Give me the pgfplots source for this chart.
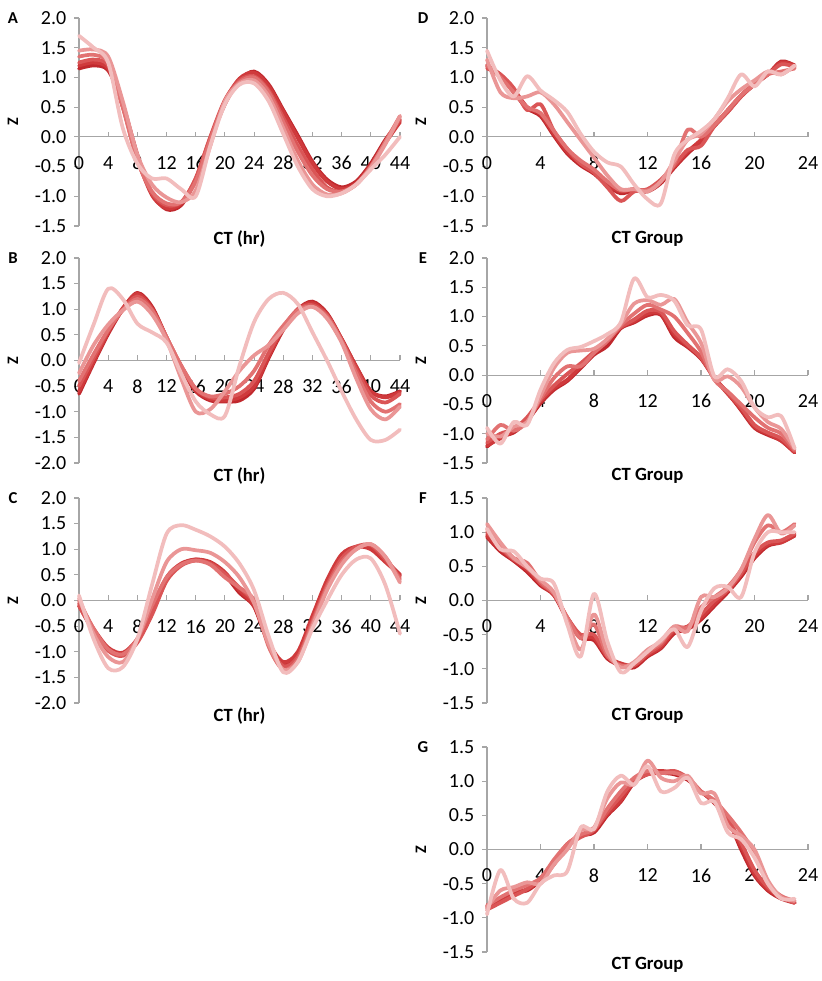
\documentclass[border=0pt]{standalone}
\usepackage{fontspec}
\setmainfont{Carlito}
\usepackage{pgfplots}
\usepackage{pgfplotstable}
\pgfplotsset{compat=1.18}
\definecolor{c1}{HTML}{C0282D}
\definecolor{c2}{HTML}{CF3A3C}
\definecolor{c3}{HTML}{DA5556}
\definecolor{c4}{HTML}{E27272}
\definecolor{c5}{HTML}{EA9696}
\definecolor{c6}{HTML}{F2BDBD}
\definecolor{axgray}{HTML}{A6A6A6}
\newcommand\tickfont{\fontsize{15}{17}\selectfont}

\pgfplotstableread{
x a b c d e f
0 1.15 1.20 1.25 1.35 1.45 1.70
2 1.20 1.25 1.30 1.38 1.47 1.50
4 1.12 1.15 1.20 1.25 1.35 1.25
6 0.55 0.52 0.50 0.50 0.60 0.15
8 -0.30 -0.35 -0.38 -0.40 -0.30 -0.45
10 -0.95 -0.98 -0.95 -0.92 -0.80 -0.70
12 -1.22 -1.20 -1.15 -1.12 -1.02 -0.70
14 -1.15 -1.12 -1.10 -1.10 -1.10 -0.88
16 -0.72 -0.70 -0.70 -0.75 -0.90 -1.00
18 -0.05 -0.02 0.00 -0.05 -0.15 -0.15
20 0.55 0.60 0.62 0.60 0.60 0.55
22 0.95 0.98 0.95 0.92 0.90 0.88
24 1.10 1.08 1.02 1.00 0.95 0.90
26 0.88 0.85 0.78 0.75 0.68 0.60
28 0.45 0.42 0.32 0.25 0.15 0.05
30 0.02 -0.02 -0.15 -0.25 -0.40 -0.50
32 -0.42 -0.45 -0.55 -0.65 -0.80 -0.88
34 -0.72 -0.75 -0.85 -0.88 -0.97 -1.00
36 -0.85 -0.88 -0.92 -0.92 -0.95 -0.95
38 -0.75 -0.78 -0.80 -0.80 -0.80 -0.80
40 -0.45 -0.48 -0.50 -0.50 -0.52 -0.55
42 -0.05 -0.10 -0.10 -0.08 -0.12 -0.30
44 0.28 0.25 0.30 0.35 0.35 0.00
}\tabA

\pgfplotstableread{
x a b c d e f
0 -0.65 -0.60 -0.50 -0.40 -0.25 -0.05
2 -0.05 -0.02 0.05 0.12 0.30 0.70
4 0.52 0.55 0.58 0.60 0.70 1.40
6 1.00 1.02 1.00 0.98 0.98 1.20
8 1.32 1.30 1.25 1.20 1.15 0.72
10 1.05 1.02 1.00 0.98 0.90 0.55
12 0.45 0.45 0.45 0.45 0.40 0.35
14 -0.15 -0.12 -0.10 -0.10 -0.35 -0.25
16 -0.60 -0.58 -0.55 -0.55 -1.00 -0.80
18 -0.78 -0.75 -0.72 -0.70 -0.95 -1.05
20 -0.80 -0.78 -0.72 -0.65 -0.60 -1.08
22 -0.78 -0.72 -0.65 -0.50 -0.20 -0.10
24 -0.55 -0.50 -0.40 -0.20 0.10 0.75
26 0.05 0.08 0.15 0.30 0.30 1.20
28 0.60 0.62 0.65 0.68 0.60 1.32
30 1.00 1.00 1.00 0.98 0.92 1.10
32 1.15 1.12 1.08 1.05 1.05 0.55
34 0.92 0.90 0.88 0.85 0.82 0.00
36 0.42 0.42 0.40 0.38 0.35 -0.60
38 -0.12 -0.12 -0.18 -0.25 -0.35 -1.15
40 -0.60 -0.60 -0.68 -0.80 -0.95 -1.55
42 -0.70 -0.72 -0.82 -1.00 -1.15 -1.55
44 -0.60 -0.62 -0.65 -0.85 -0.90 -1.35
}\tabB

\pgfplotstableread{
x a b c d e f
0 -0.10 -0.05 -0.10 0.00 0.05 0.10
2 -0.60 -0.55 -0.60 -0.55 -0.65 -0.75
4 -0.95 -0.92 -0.98 -0.95 -1.10 -1.32
6 -1.05 -1.02 -1.08 -1.05 -1.20 -1.30
8 -0.80 -0.75 -0.82 -0.75 -0.75 -0.75
10 -0.25 -0.20 -0.28 -0.10 0.02 0.30
12 0.40 0.45 0.38 0.45 0.75 1.30
14 0.70 0.72 0.68 0.70 1.00 1.47
16 0.80 0.80 0.78 0.78 0.98 1.38
18 0.72 0.75 0.72 0.70 0.93 1.25
20 0.50 0.55 0.52 0.45 0.75 1.05
22 0.15 0.20 0.25 0.25 0.45 0.72
24 -0.12 -0.10 -0.05 0.00 -0.05 0.20
26 -0.85 -0.82 -0.85 -0.90 -0.85 -0.70
28 -1.25 -1.20 -1.28 -1.35 -1.35 -1.40
30 -1.05 -1.00 -1.10 -1.15 -1.20 -1.20
32 -0.35 -0.30 -0.40 -0.45 -0.50 -0.55
34 0.35 0.40 0.30 0.25 0.20 0.00
36 0.85 0.90 0.82 0.75 0.70 0.50
38 1.05 1.05 1.05 1.00 1.00 0.80
40 1.02 1.00 1.08 1.10 1.10 0.82
42 0.78 0.75 0.80 0.85 0.85 0.30
44 0.50 0.50 0.45 0.40 0.35 -0.65
}\tabC

\pgfplotstableread{
x a b c d e f
0 1.18 1.20 1.15 1.20 1.30 1.45
1 1.02 1.05 1.05 1.00 0.75 0.95
2 0.75 0.80 0.82 0.75 0.65 0.68
3 0.48 0.50 0.45 0.50 0.68 1.02
4 0.35 0.38 0.55 0.40 0.75 0.78
5 0.02 0.05 0.10 0.10 0.55 0.62
6 -0.28 -0.25 -0.20 -0.20 0.25 0.42
7 -0.48 -0.45 -0.45 -0.40 -0.05 0.05
8 -0.62 -0.60 -0.60 -0.55 -0.35 -0.25
9 -0.82 -0.80 -0.85 -0.75 -0.65 -0.43
10 -0.95 -0.92 -1.08 -0.90 -0.88 -0.50
11 -0.90 -0.88 -0.92 -0.88 -0.88 -0.80
12 -0.92 -0.90 -0.88 -0.90 -0.92 -1.05
13 -0.78 -0.75 -0.72 -0.75 -0.75 -1.12
14 -0.52 -0.50 -0.48 -0.45 -0.40 -0.30
15 -0.28 -0.25 -0.22 0.12 -0.05 -0.05
16 -0.08 -0.05 -0.15 0.00 0.05 0.10
17 0.18 0.20 0.18 0.20 0.30 0.30
18 0.42 0.45 0.42 0.45 0.60 0.65
19 0.68 0.70 0.68 0.70 0.80 1.05
20 0.88 0.90 0.90 0.88 0.95 0.85
21 1.05 1.05 1.05 1.05 1.10 1.10
22 1.27 1.25 1.22 1.10 1.05 1.05
23 1.20 1.20 1.18 1.15 1.20 1.20
}\tabD

\pgfplotstableread{
x a b c d e f
0 -1.22 -1.20 -1.15 -1.10 -1.00 -0.90
1 -1.05 -1.08 -1.00 -0.85 -1.05 -1.17
2 -0.98 -0.95 -0.92 -0.95 -0.88 -0.80
3 -0.78 -0.75 -0.72 -0.80 -0.80 -0.85
4 -0.48 -0.45 -0.42 -0.40 -0.35 -0.25
5 -0.25 -0.22 -0.18 -0.05 0.12 0.20
6 -0.10 -0.08 0.02 0.15 0.38 0.43
7 0.12 0.15 0.20 0.15 0.42 0.48
8 0.35 0.38 0.40 0.38 0.45 0.58
9 0.50 0.60 0.60 0.58 0.62 0.70
10 0.80 0.82 0.82 0.85 0.88 0.90
11 0.90 0.92 0.95 1.05 1.22 1.65
12 1.02 1.05 1.10 1.20 1.28 1.33
13 1.03 1.05 1.08 1.12 1.20 1.37
14 0.65 0.70 0.75 1.00 1.30 1.27
15 0.48 0.50 0.52 0.72 0.90 0.85
16 0.28 0.30 0.30 0.40 0.55 0.78
17 -0.05 -0.05 -0.05 -0.08 -0.08 -0.02
18 -0.30 -0.32 -0.30 -0.28 -0.02 0.10
19 -0.60 -0.58 -0.55 -0.50 -0.20 -0.10
20 -0.90 -0.88 -0.85 -0.72 -0.55 -0.55
21 -1.02 -1.00 -0.98 -0.90 -0.80 -0.72
22 -1.12 -1.12 -1.08 -1.00 -0.92 -0.70
23 -1.32 -1.32 -1.30 -1.28 -1.25 -1.25
}\tabE

\pgfplotstableread{
x a b c d e f
0 0.93 0.95 1.00 1.05 1.12 1.05
1 0.72 0.75 0.78 0.80 0.85 0.75
2 0.58 0.60 0.60 0.62 0.62 0.72
3 0.42 0.45 0.50 0.55 0.48 0.50
4 0.22 0.25 0.25 0.28 0.30 0.32
5 0.08 0.08 0.10 0.10 0.12 0.25
6 -0.28 -0.25 -0.25 -0.25 -0.30 -0.35
7 -0.55 -0.52 -0.50 -0.55 -0.72 -0.82
8 -0.58 -0.55 -0.50 -0.35 -0.20 0.10
9 -0.85 -0.82 -0.82 -0.80 -0.75 -0.60
10 -0.95 -0.92 -0.95 -0.95 -0.98 -1.05
11 -0.98 -0.95 -0.95 -0.92 -0.90 -0.92
12 -0.82 -0.80 -0.78 -0.75 -0.72 -0.75
13 -0.70 -0.68 -0.65 -0.62 -0.60 -0.58
14 -0.48 -0.45 -0.42 -0.38 -0.38 -0.42
15 -0.42 -0.40 -0.38 -0.40 -0.45 -0.68
16 -0.28 -0.25 -0.20 -0.10 0.05 -0.15
17 -0.08 -0.05 0.00 0.05 0.05 0.18
18 0.12 0.15 0.15 0.20 0.18 0.20
19 0.35 0.38 0.40 0.45 0.45 0.05
20 0.62 0.65 0.70 0.85 0.90 0.70
21 0.80 0.82 0.85 1.10 1.25 1.00
22 0.85 0.85 0.88 1.00 0.98 1.00
23 0.95 0.95 0.98 1.12 1.10 1.00
}\tabF

\pgfplotstableread{
x a b c d e f
0 -0.82 -0.85 -0.88 -0.82 -0.85 -0.95
1 -0.72 -0.75 -0.78 -0.70 -0.60 -0.30
2 -0.62 -0.65 -0.68 -0.60 -0.55 -0.72
3 -0.60 -0.58 -0.58 -0.52 -0.48 -0.78
4 -0.45 -0.45 -0.42 -0.42 -0.50 -0.50
5 -0.22 -0.20 -0.18 -0.15 -0.22 -0.38
6 0.05 0.08 0.05 0.08 0.00 -0.32
7 0.20 0.20 0.18 0.22 0.28 0.32
8 0.25 0.30 0.28 0.30 0.32 0.30
9 0.50 0.52 0.55 0.60 0.75 0.85
10 0.70 0.72 0.78 0.85 0.98 1.08
11 0.98 1.00 1.00 1.05 0.95 0.95
12 1.10 1.12 1.10 1.15 1.30 1.22
13 1.12 1.15 1.12 1.12 1.05 0.85
14 1.10 1.12 1.15 1.12 1.00 0.90
15 1.02 1.05 1.05 1.05 1.08 1.05
16 0.85 0.85 0.85 0.85 0.82 0.68
17 0.68 0.70 0.70 0.72 0.82 0.70
18 0.45 0.42 0.45 0.50 0.35 0.25
19 0.00 0.05 0.10 0.25 0.20 0.15
20 -0.38 -0.35 -0.30 -0.05 0.00 -0.12
21 -0.60 -0.58 -0.55 -0.50 -0.45 -0.50
22 -0.72 -0.70 -0.70 -0.68 -0.70 -0.72
23 -0.78 -0.77 -0.78 -0.75 -0.75 -0.72
}\tabG

\pgfplotsset{
  panel/.style={
    scale only axis,
    width=240.75pt,
    xmin=0,
    axis x line=middle,
    axis y line=left,
    axis line style={draw=axgray, line width=0.8pt, -},
    tick style={draw=axgray, line width=0.8pt},
    major tick length=3.75pt,
    tick align=outside,
    xtick style={yshift=3.75pt},
    hide obscured x ticks=false,
    hide obscured y ticks=false,
    xtick distance=4,
    ytick distance=0.5,
    minor tick num=0,
    xticklabel={\tickfont\pgfmathprintnumber[assume math mode=true]{\tick}},
    yticklabel={\tickfont\pgfmathprintnumber[assume math mode=true,fixed,fixed zerofill,precision=1]{\tick}},
    yticklabel style={xshift=-2.25pt},
    xticklabel style={anchor=center, yshift=-15.75pt},
    every axis x label/.style={at={(axis description cs:0.5,0)}, anchor=center, yshift=-9.75pt, font=\fontsize{14}{16}\bfseries},
    every axis y label/.style={at={(axis description cs:0,0.5)}, xshift=-49.5pt, anchor=center, rotate=90, font=\fontsize{12}{14}\bfseries},
    ylabel={Z},
    clip=false,
    every axis plot/.append style={smooth, tension=0.5, line width=2.8pt, no marks, line join=round, line cap=round},
  }
}
\newcommand\six[1]{%
  \addplot[c1] table[x=x,y=a]{#1};
  \addplot[c2] table[x=x,y=b]{#1};
  \addplot[c3] table[x=x,y=c]{#1};
  \addplot[c4] table[x=x,y=d]{#1};
  \addplot[c5] table[x=x,y=e]{#1};
  \addplot[c6] table[x=x,y=f]{#1};
}

\begin{document}
\begin{tikzpicture}
\useasboundingbox (0pt,0pt) rectangle (615.75pt,735.75pt);
% left column
\begin{axis}[panel, at={(59.25pt,566.25pt)}, anchor=south west, height=156pt,
  xmax=44, ymin=-1.5, ymax=2, xlabel={CT (hr)}]
\six{\tabA}
\end{axis}
\begin{axis}[panel, at={(59.25pt,388.5pt)}, anchor=south west, height=153.75pt,
  xmax=44, ymin=-2, ymax=2, xlabel={CT (hr)}]
\six{\tabB}
\end{axis}
\begin{axis}[panel, at={(59.25pt,208.5pt)}, anchor=south west, height=153.75pt,
  xmax=44, ymin=-2, ymax=2, xlabel={CT (hr)}]
\six{\tabC}
\end{axis}
% right column
\begin{axis}[panel, at={(365.25pt,566.25pt)}, anchor=south west, height=156pt,
  xmax=24, ymin=-1.5, ymax=2, xlabel={CT Group}]
\six{\tabD}
\end{axis}
\begin{axis}[panel, at={(365.25pt,388.5pt)}, anchor=south west, height=153.75pt,
  xmax=24, ymin=-1.5, ymax=2, xlabel={CT Group}]
\six{\tabE}
\end{axis}
\begin{axis}[panel, at={(365.25pt,208.5pt)}, anchor=south west, height=153.75pt,
  xmax=24, ymin=-1.5, ymax=1.5, xlabel={CT Group}]
\six{\tabF}
\end{axis}
\begin{axis}[panel, at={(365.25pt,21.75pt)}, anchor=south west, height=153.75pt,
  xmax=24, ymin=-1.5, ymax=1.5, xlabel={CT Group}]
\six{\tabG}
\end{axis}
\begin{scope}[font=\fontsize{12.5}{14}\bfseries]
\node at (9.75pt,722.25pt) {A};
\node at (9.75pt,542.25pt) {B};
\node at (9.75pt,362.25pt) {C};
\node at (317.25pt,722.25pt) {D};
\node at (317.25pt,542.25pt) {E};
\node at (317.25pt,362.25pt) {F};
\node at (317.25pt,175.5pt) {G};
\end{scope}
\end{tikzpicture}
\end{document}
